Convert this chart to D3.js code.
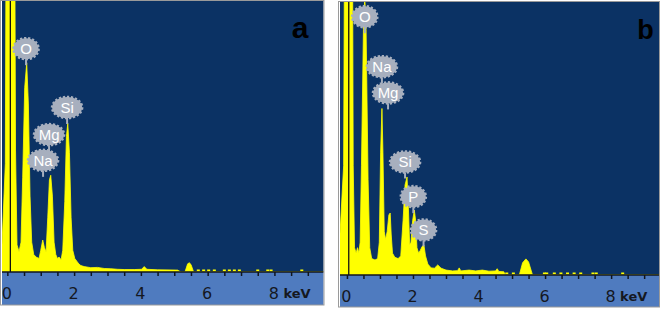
<!DOCTYPE html>
<html>
<head>
<meta charset="utf-8">
<script src="https://cdn.jsdelivr.net/npm/d3@7"></script>
<style>
  html, body { margin: 0; padding: 0; background: #ffffff; }
  svg { display: block; }
</style>
</head>
<body>
<svg id="chart" width="664" height="309"></svg>
<script>
// ---------- DATA ----------
// Panel a spectrum: energy (keV) and counts (% of full scale)
const keVA = [-0.16,-0.06,-0.02,0.21,0.245,0.29,0.35,0.41,0.46,0.52,0.58,0.63,0.68,0.73,0.79,0.86,0.95,1.00,1.06,1.11,1.16,1.21,1.26,1.30,1.35,1.40,1.45,1.50,1.55,1.61,1.66,1.72,1.77,1.81,1.86,1.91,1.96,2.02,2.08,2.14,2.20,2.30,2.50,2.70,2.90,3.10,3.30,3.50,3.80,4.02,4.10,4.18,4.50,5.10,5.20,5.32,5.40,5.45,5.50,5.58,9.47];
const countsA = [10,40,200,170,45,10,7.5,11,35,68,77.2,62,28,11,6.5,5.5,5,8,11.8,9,7.5,20,34,35.7,28,11,6.5,5,5.5,4.5,8,26,50,54.9,44,20,8,5,4,3,2.4,2,1.6,1.7,1.3,1.2,1.0,0.9,0.9,1.0,2.0,1.0,0.8,0.7,0,0,3.0,3.4,2.8,0,0];
const sparseA = [5.72,5.88,6.03,6.20,6.50,6.65,6.80,6.95,7.50,7.80,7.90,8.82];
const markerA = 0.09;
const elementsA = ["O","Si","Mg","Na"];
const elementKeVA = [0.56,1.79,1.25,1.07];
const elementLevelA = [82.4,60.7,50.7,41.2];

// Panel b spectrum
const keVB = [-0.21,-0.10,-0.05,0.15,0.19,0.23,0.28,0.32,0.36,0.40,0.44,0.50,0.54,0.58,0.64,0.69,0.75,0.85,0.93,0.98,1.02,1.06,1.09,1.13,1.17,1.22,1.27,1.31,1.34,1.38,1.45,1.55,1.63,1.70,1.76,1.82,1.86,1.90,1.94,1.99,2.04,2.08,2.12,2.17,2.22,2.28,2.33,2.38,2.45,2.55,2.65,2.75,2.85,3.00,3.20,3.35,3.40,3.45,3.70,3.90,4.10,4.30,4.50,4.55,4.60,4.75,4.80,5.22,5.32,5.42,5.50,5.62,9.45];
const countsB = [15,40,200,200,40,10,8,10,8,12,40,90,102,90,35,10,6,5.5,6,12,45,61,45,16,13,16,22,22.7,15,8,6.5,6,7,20,33,35.9,25,11,12,20,23.8,20,10,8,9,10.5,11,7,4,2.6,2.5,3.7,2.5,1.8,1.5,1.6,2.6,1.5,1.8,1.5,1.8,1.4,1.5,2.3,1.3,1.2,0,0,4.5,5.9,4.8,0,0];
const sparseB = [4.84,5.04,5.98,6.05,6.28,6.48,6.68,6.88,7.08,7.45,7.55,8.35];
const markerB = 0.055;
const elementsB = ["O","Na","Mg","Si","P","S"];
const elementKeVB = [0.54,1.06,1.245,1.76,2.01,2.32];
const elementLevelB = [94.6,76.3,66.7,41.4,28.7,16.5];

// Axis ticks
const tickValues = [0,0.5,1,1.5,2,2.5,3,3.5,4,4.5,5,5.5,6,6.5,7,7.5,8,8.5,9];
const labeledTicks = [0,2,4,6,8];
const tickLabels = ["0","2","4","6","8"];
const unitLabel = "keV";
const panelLetters = ["a","b"];

// ---------- STYLE ----------
const C = {
  plot: "#0b3264",
  band: "#4f7bbf",
  yellow: "#ffff00",
  tag: "#a7afbe",
  tagText: "#ffffff",
  axis: "#10151f",
  border: "#9a9a9a"
};

const svg = d3.select("#chart");

function drawPanel(cfg) {
  const g = svg.append("g");
  const x = d3.scaleLinear().domain(cfg.domain).range([cfg.left, cfg.right]);
  const y = d3.scaleLinear().domain([0, 100]).range([cfg.base, cfg.top]);

  g.append("rect").attr("x", cfg.left).attr("y", cfg.top)
    .attr("width", cfg.right - cfg.left).attr("height", cfg.base - cfg.top)
    .attr("fill", C.plot);
  g.append("rect").attr("x", cfg.left).attr("y", cfg.base)
    .attr("width", cfg.right - cfg.left).attr("height", cfg.bandBottom - cfg.base)
    .attr("fill", C.band);

  const clipId = "clip-" + cfg.id;
  svg.append("clipPath").attr("id", clipId).append("rect")
    .attr("x", cfg.left).attr("y", cfg.top)
    .attr("width", cfg.right - cfg.left).attr("height", cfg.base - cfg.top);

  const plot = g.append("g").attr("clip-path", `url(#${clipId})`);
  const pts = cfg.keV.map((k, i) => [k, cfg.counts[i]]);
  const area = d3.area().x(d => x(d[0])).y0(y(0)).y1(d => y(d[1]));
  plot.append("path").datum(pts).attr("d", area)
    .attr("fill", C.yellow).attr("stroke", C.yellow).attr("stroke-width", 0.8)
    .attr("stroke-linejoin", "round");

  plot.selectAll("rect.dot").data(cfg.sparse).join("rect")
    .attr("x", d => x(d) - 1.5).attr("y", y(0) - 2.5)
    .attr("width", 3).attr("height", 2).attr("fill", C.yellow);

  plot.append("line")
    .attr("x1", x(cfg.marker)).attr("x2", x(cfg.marker))
    .attr("y1", cfg.top).attr("y2", cfg.base)
    .attr("stroke", "#111111").attr("stroke-width", 1.3);

  const axis = d3.axisBottom(x)
    .tickValues(tickValues)
    .tickSize(4)
    .tickPadding(12)
    .tickFormat(v => {
      const i = labeledTicks.indexOf(v);
      return i >= 0 ? tickLabels[i] : "";
    });
  const ax = g.append("g").attr("transform", `translate(0,${cfg.base})`).call(axis);
  ax.select(".domain").remove();
  ax.selectAll(".tick line").attr("stroke", C.axis).attr("stroke-width", 1.5);
  ax.selectAll(".tick text")
    .attr("fill", "#15181f")
    .attr("dx", "-1")
    .style("font-family", "'DejaVu Sans', Verdana, sans-serif")
    .style("font-size", "16px");
  g.append("line").attr("x1", cfg.left).attr("x2", cfg.right)
    .attr("y1", cfg.base).attr("y2", cfg.base)
    .attr("stroke", C.axis).attr("stroke-width", 1.5);

  g.append("text")
    .attr("x", x(8) + 9).attr("y", cfg.base + 26)
    .attr("fill", "#15181f")
    .style("font-family", "'DejaVu Sans', Verdana, sans-serif")
    .style("font-size", "13px").style("font-weight", "bold")
    .text(unitLabel);

  const tags = g.selectAll("g.tag").data(cfg.elements.map((e, i) => ({
    name: e, k: cfg.elKeV[i], lvl: cfg.elLevel[i]
  }))).join("g").attr("class", "tag");
  tags.each(function(d) {
    const t = d3.select(this);
    const cx = x(d.k), cy = y(d.lvl);
    const rx = d.name.length > 1 ? 15 : 12.5, ry = 10.5;
    t.append("line").attr("x1", cx).attr("x2", cx)
      .attr("y1", cy + ry).attr("y2", cy + ry + 6)
      .attr("stroke", C.tag).attr("stroke-width", 2);
    t.append("ellipse").attr("cx", cx).attr("cy", cy).attr("rx", rx).attr("ry", ry)
      .attr("fill", C.tag).attr("stroke", C.tag).attr("stroke-width", 2.6)
      .attr("stroke-dasharray", "2.2 1.8");
    t.append("text").attr("x", cx).attr("y", cy + 5.3)
      .attr("text-anchor", "middle").attr("fill", C.tagText)
      .style("font-family", "'Liberation Sans', Arial, sans-serif")
      .style("font-size", "15px")
      .text(d.name);
  });

  g.append("text").attr("x", cfg.letterX).attr("y", cfg.letterY)
    .attr("text-anchor", "middle").attr("fill", "#000")
    .style("font-family", "'Liberation Sans', Arial, sans-serif")
    .style("font-size", cfg.letterSize + "px").style("font-weight", "bold")
    .text(cfg.letter);

  g.append("rect").attr("x", cfg.left - 1.5).attr("y", cfg.top - 0.5)
    .attr("width", cfg.right - cfg.left + 2).attr("height", cfg.bandBottom - cfg.top + 0.5)
    .attr("fill", "none").attr("stroke", C.border).attr("stroke-width", 1);
}

drawPanel({
  id: "a", left: 2, right: 323.5, top: 1, base: 272, bandBottom: 305,
  domain: [-0.16, 9.47],
  keV: keVA, counts: countsA, sparse: sparseA, marker: markerA,
  elements: elementsA, elKeV: elementKeVA, elLevel: elementLevelA,
  letter: panelLetters[0], letterX: 300, letterY: 37.5, letterSize: 30
});
drawPanel({
  id: "b", left: 340, right: 659, top: 2, base: 275, bandBottom: 307,
  domain: [-0.21, 9.45],
  keV: keVB, counts: countsB, sparse: sparseB, marker: markerB,
  elements: elementsB, elKeV: elementKeVB, elLevel: elementLevelB,
  letter: panelLetters[1], letterX: 645.5, letterY: 38.5, letterSize: 27
});
</script>
</body>
</html>
